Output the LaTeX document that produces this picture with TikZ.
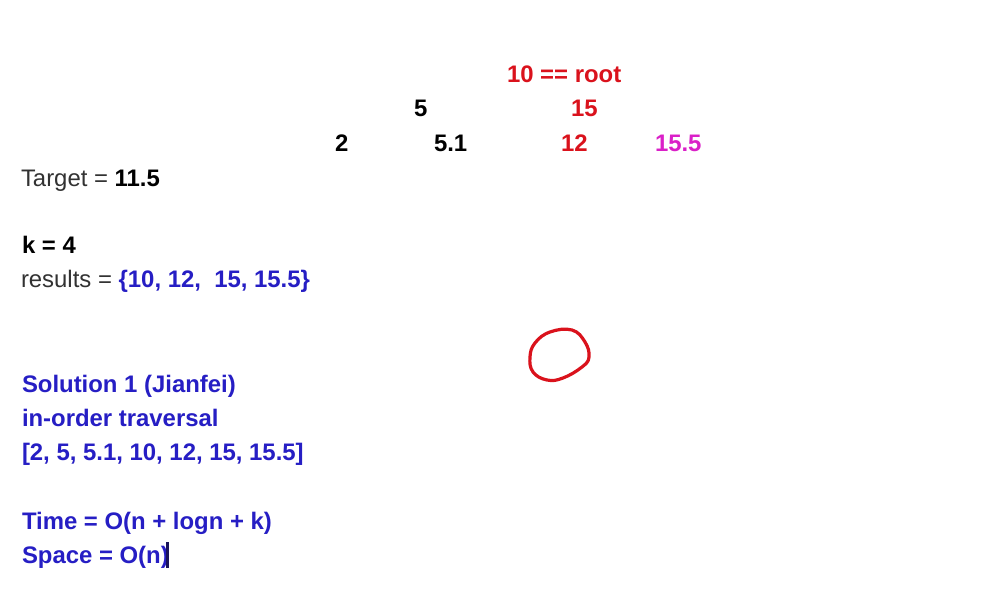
\documentclass[tikz,border=0pt]{standalone}
\usepackage{fontspec}
\setmainfont{Liberation Sans}
\definecolor{tred}{RGB}{218,18,28}
\definecolor{tmag}{RGB}{218,32,200}
\definecolor{tblue}{RGB}{38,30,196}
\definecolor{tgrey}{RGB}{50,50,50}
\definecolor{tcursor}{RGB}{25,20,90}
\begin{document}
\begin{tikzpicture}[x=1pt,y=-1pt,
  txt/.style={anchor=base west,inner sep=0pt,outer sep=0pt,font=\fontsize{23.9}{28}\selectfont},
  btxt/.style={txt,font=\fontsize{23.9}{28}\selectfont\bfseries},
  ink/.style={draw=tred,line width=3.2pt,line cap=round,line join=round}]
\useasboundingbox[fill=white] (0,0) rectangle (1002,596);
% tree
\node[btxt,text=tred] (root) at (507,82.5) {10 == root};
\node[btxt,text=black] (n5) at (414,116.5) {5};
\node[btxt,text=tred] (n15) at (571,116.5) {15};
\node[btxt,text=black] (n2) at (335,151.5) {2};
\node[btxt,text=black] (n51) at (434,151.5) {5.1};
\node[btxt,text=tred] (n12) at (561,151.5) {12};
\node[btxt,text=tmag] (n155) at (655,151.5) {15.5};
% left column
\node[txt,text=tgrey] (target) at (21,187) {Target = \textcolor{black}{\bfseries 11.5}};
\node[btxt,text=black] (k) at (22,254) {k = 4};
\node[txt,text=tgrey] (results) at (21,288) {results = \textcolor{tblue}{\bfseries \{10, 12,\ \ 15, 15.5\}}};
\node[btxt,text=tblue] (sol) at (22,392) {Solution 1 (Jianfei)};
\node[btxt,text=tblue] (inorder) at (22,426) {in-order traversal};
\node[btxt,text=tblue] (list) at (22,460) {[2, 5, 5.1, 10, 12, 15, 15.5]};
\node[btxt,text=tblue] (time) at (22,529) {Time = O(n + logn + k)};
\node[btxt,text=tblue] (space) at (22,563) {Space = O(n)};
% cursor
\coordinate (cb) at ([xshift=-1pt,yshift=-5pt]space.base east);
\coordinate (ct) at ([xshift=-1pt,yshift=21pt]space.base east);
\draw[tcursor,line width=2.6pt] (cb) -- (ct);
% hand-drawn circle
\draw[ink] plot[smooth cycle,tension=0.7] coordinates {(535,343) (550,332) (572,330) (585,342) (589,357) (582,367) (563,378) (547,380) (533,372) (530,357)};
\end{tikzpicture}
\end{document}
